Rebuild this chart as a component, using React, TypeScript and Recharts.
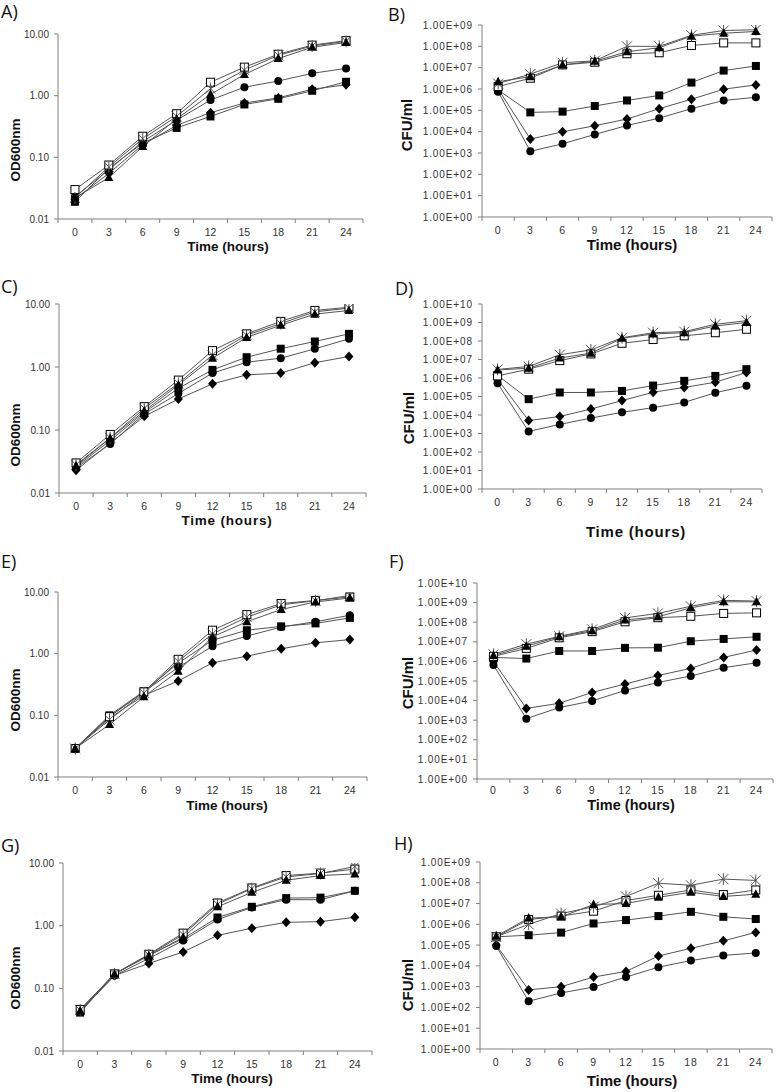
import React from 'react';
import { LineChart, Line, XAxis, YAxis } from 'recharts';

const TIMES = [0, 3, 6, 9, 12, 15, 18, 21, 24];
const OD_TICKS = [0.01, 0.1, 1, 10];
const CFU_TICKS_9 = [1, 1e1, 1e2, 1e3, 1e4, 1e5, 1e6, 1e7, 1e8, 1e9];
const CFU_TICKS_10 = [1, 1e1, 1e2, 1e3, 1e4, 1e5, 1e6, 1e7, 1e8, 1e9, 1e10];

// series order: open square, asterisk, triangle, circle, filled square, diamond
const A_openSq = [0.030, 0.075, 0.22, 0.51, 1.65, 2.9, 4.7, 6.6, 7.8];
const A_star = [0.022, 0.070, 0.20, 0.46, 1.30, 2.6, 4.5, 6.4, 7.6];
const A_tri = [0.022, 0.047, 0.15, 0.42, 1.05, 2.2, 4.0, 6.1, 7.3];
const A_circle = [0.023, 0.063, 0.18, 0.40, 0.85, 1.37, 1.73, 2.3, 2.77];
const A_fSq = [0.019, 0.066, 0.17, 0.30, 0.46, 0.72, 0.89, 1.2, 1.68];
const A_diamond = [0.021, 0.055, 0.16, 0.33, 0.53, 0.76, 0.92, 1.27, 1.5];

const B_openSq = [1.3e6, 3.2e6, 1.35e7, 1.8e7, 4.5e7, 5.0e7, 1.1e8, 1.45e8, 1.45e8];
const B_star = [1.8e6, 5.0e6, 1.7e7, 2.1e7, 1.0e8, 1.0e8, 3.3e8, 5.5e8, 6.0e8];
const B_tri = [2.2e6, 3.8e6, 1.35e7, 2.0e7, 5.6e7, 8.6e7, 3.0e8, 4.1e8, 5.0e8];
const B_circle = [7.5e5, 1.2e3, 2.7e3, 7.4e3, 1.95e4, 4.3e4, 1.2e5, 2.9e5, 4.1e5];
const B_fSq = [9e5, 8e4, 8.7e4, 1.6e5, 2.9e5, 5e5, 2e6, 7.3e6, 1.2e7];
const B_diamond = [1e6, 4.5e3, 9.8e3, 1.9e4, 3.9e4, 1.2e5, 3.3e5, 9.8e5, 1.55e6];

const C_openSq = [0.030, 0.085, 0.235, 0.62, 1.82, 3.36, 5.3, 7.9, 8.9];
const C_star = [0.028, 0.075, 0.22, 0.55, 1.55, 3.2, 4.9, 7.5, 8.6];
const C_tri = [0.027, 0.074, 0.20, 0.52, 1.38, 2.95, 4.6, 6.9, 7.9];
const C_circle = [0.025, 0.060, 0.18, 0.38, 0.80, 1.19, 1.38, 1.94, 2.8];
const C_fSq = [0.026, 0.068, 0.19, 0.46, 0.90, 1.43, 1.95, 2.54, 3.36];
const C_diamond = [0.023, 0.062, 0.165, 0.31, 0.54, 0.75, 0.80, 1.17, 1.47];

const D_openSq = [1.3e6, 3.0e6, 8.7e6, 2.0e7, 7.5e7, 1.2e8, 1.9e8, 2.8e8, 4.3e8];
const D_star = [2.9e6, 4.2e6, 1.8e7, 3.3e7, 1.5e8, 2.8e8, 3.2e8, 8e8, 1.25e9];
const D_tri = [2.7e6, 3.4e6, 1.2e7, 2.2e7, 1.4e8, 2.4e8, 2.8e8, 6.5e8, 1.0e9];
const D_circle = [5.2e5, 1.3e3, 3.1e3, 6.8e3, 1.4e4, 2.5e4, 4.8e4, 1.6e5, 3.8e5];
const D_fSq = [1.4e6, 7.2e4, 1.65e5, 1.65e5, 2e5, 3.9e5, 7e5, 1.3e6, 3e6];
const D_diamond = [8.5e5, 5e3, 8.3e3, 2.1e4, 6e4, 1.7e5, 3.1e5, 5.9e5, 2e6];

const E_openSq = [0.029, 0.095, 0.24, 0.81, 2.4, 4.3, 6.5, 7.3, 8.3];
const E_star = [0.029, 0.085, 0.23, 0.75, 2.1, 3.9, 6.2, 7.2, 8.8];
const E_tri = [0.029, 0.071, 0.20, 0.52, 1.87, 3.3, 5.2, 6.9, 8.0];
const E_circle = [0.029, 0.095, 0.24, 0.60, 1.32, 1.93, 2.7, 3.3, 4.2];
const E_fSq = [0.029, 0.10, 0.245, 0.70, 1.65, 2.4, 2.77, 3.1, 3.8];
const E_diamond = [0.029, 0.09, 0.21, 0.36, 0.71, 0.91, 1.2, 1.5, 1.69];

const F_openSq = [1.8e6, 4.6e6, 1.6e7, 3.3e7, 1.05e8, 1.7e8, 2e8, 2.8e8, 3e8];
const F_star = [2.3e6, 7.6e6, 1.9e7, 4.3e7, 1.66e8, 2.8e8, 6.5e8, 1.3e9, 1.2e9];
const F_tri = [2e6, 6e6, 1.8e7, 3.7e7, 1.3e8, 1.9e8, 5.4e8, 1.1e9, 1.1e9];
const F_circle = [6.5e5, 1.2e3, 4.4e3, 9.6e3, 3.3e4, 8.4e4, 1.8e5, 4.8e5, 8.5e5];
const F_fSq = [1.6e6, 1.4e6, 3.4e6, 3.4e6, 4.9e6, 5e6, 1.07e7, 1.4e7, 1.8e7];
const F_diamond = [1e6, 4e3, 7.3e3, 2.6e4, 7e4, 1.9e5, 4.4e5, 1.6e6, 3.8e6];

const G_openSq = [0.046, 0.17, 0.35, 0.76, 2.3, 4.0, 6.3, 6.9, 8.0];
const G_star = [0.045, 0.17, 0.34, 0.72, 2.2, 3.9, 6.0, 6.8, 8.8];
const G_tri = [0.044, 0.17, 0.33, 0.65, 2.0, 3.4, 5.3, 6.3, 6.7];
const G_circle = [0.043, 0.16, 0.30, 0.58, 1.25, 1.95, 2.6, 2.6, 3.6];
const G_fSq = [0.041, 0.17, 0.34, 0.62, 1.35, 2.0, 2.75, 2.8, 3.6];
const G_diamond = [0.043, 0.16, 0.25, 0.38, 0.70, 0.91, 1.13, 1.16, 1.36];

const H_openSq = [2.5e5, 1.7e6, 2.5e6, 4.3e6, 1.4e7, 2.5e7, 4.5e7, 2.7e7, 4.5e7];
const H_star = [2.5e5, 1.0e6, 3.3e6, 7e6, 2.2e7, 9.5e7, 7.6e7, 1.5e8, 1.3e8];
const H_tri = [2.7e5, 2.0e6, 2.3e6, 9e6, 1.0e7, 2.0e7, 3.5e7, 2.2e7, 2.8e7];
const H_circle = [9e4, 2e2, 5e2, 9.6e2, 2.9e3, 8.7e3, 1.8e4, 3.2e4, 4.2e4];
const H_fSq = [2.5e5, 3e5, 4e5, 1.1e6, 1.6e6, 2.5e6, 4e6, 2.3e6, 1.8e6];
const H_diamond = [1e5, 7e2, 1e3, 2.9e3, 5.4e3, 3e4, 7e4, 1.6e5, 4.1e5];

const AXIS = '#808080';
const LINE = '#555';
const TXT = '#333';
const FONT = '"Liberation Sans", Arial, sans-serif';

const makeRows = (openSq, star, tri, circle, fSq, diamond) =>
  TIMES.map((t, i) => ({
    t,
    openSq: openSq[i],
    star: star[i],
    tri: tri[i],
    circle: circle[i],
    fSq: fSq[i],
    diamond: diamond[i],
  }));

// lp = letter position, xt / yt = axis title centres, tl = tick label baseline below axis
const panels = [
  { letter: 'A', kind: 'od', rows: makeRows(A_openSq, A_star, A_tri, A_circle, A_fSq, A_diamond),
    x0: 58, top: 34, right: 363, bottom: 219, lp: [1, 18], xt: [228, 251], yt: [15, 150], tl: 17, tf: 13.5 },
  { letter: 'B', kind: 'cfu', max: 9, rows: makeRows(B_openSq, B_star, B_tri, B_circle, B_fSq, B_diamond),
    x0: 482, top: 25, right: 772, bottom: 217, lp: [388, 21], xt: [632, 250], yt: [406, 125], tl: 17, tf: 15 },
  { letter: 'C', kind: 'od', rows: makeRows(C_openSq, C_star, C_tri, C_circle, C_fSq, C_diamond),
    x0: 59, top: 304, right: 366, bottom: 493, lp: [1, 293], xt: [227, 525], yt: [15, 435], tl: 17, tf: 13.5 },
  { letter: 'D', kind: 'cfu', max: 10, rows: makeRows(D_openSq, D_star, D_tri, D_circle, D_fSq, D_diamond),
    x0: 482, top: 304, right: 762, bottom: 489, lp: [395, 295], xt: [636, 537], yt: [408, 418], tl: 17, tf: 15 },
  { letter: 'E', kind: 'od', rows: makeRows(E_openSq, E_star, E_tri, E_circle, E_fSq, E_diamond),
    x0: 58, top: 592, right: 367, bottom: 777, lp: [1, 568], xt: [227, 810], yt: [15, 700], tl: 17, tf: 13.5 },
  { letter: 'F', kind: 'cfu', max: 10, rows: makeRows(F_openSq, F_star, F_tri, F_circle, F_fSq, F_diamond),
    x0: 477, top: 583, right: 773, bottom: 779, lp: [389, 568], xt: [631, 810], yt: [407, 683], tl: 15, tf: 14.5 },
  { letter: 'G', kind: 'od', rows: makeRows(G_openSq, G_star, G_tri, G_circle, G_fSq, G_diamond),
    x0: 63, top: 863, right: 372, bottom: 1051, lp: [1, 852], xt: [232, 1083], yt: [15, 978], tl: 17, tf: 13.5 },
  { letter: 'H', kind: 'cfu', max: 9, rows: makeRows(H_openSq, H_star, H_tri, H_circle, H_fSq, H_diamond),
    x0: 480, top: 862, right: 772, bottom: 1049, lp: [394, 850], xt: [632, 1086], yt: [407, 985], tl: 17, tf: 15 },
];

// marker shapes
const OpenSquare = ({ cx, cy }) => (
  <rect x={cx - 4} y={cy - 4} width={8} height={8} fill="#fff" stroke="#000" strokeWidth={1} />
);
const FilledSquare = ({ cx, cy }) => (
  <rect x={cx - 4} y={cy - 4} width={8} height={8} fill="#000" />
);
const Circle = ({ cx, cy }) => <circle cx={cx} cy={cy} r={4} fill="#000" />;
const Diamond = ({ cx, cy }) => (
  <path d={`M${cx},${cy - 5}L${cx + 4.5},${cy}L${cx},${cy + 5}L${cx - 4.5},${cy}Z`} fill="#000" />
);
const Triangle = ({ cx, cy }) => (
  <path d={`M${cx},${cy - 5}L${cx + 4.5},${cy + 3.5}L${cx - 4.5},${cy + 3.5}Z`} fill="#000" />
);
const Star = ({ cx, cy }) => (
  <path
    d={`M${cx - 5},${cy - 5}L${cx + 5},${cy + 5}M${cx + 5},${cy - 5}L${cx - 5},${cy + 5}M${cx},${cy - 6}L${cx},${cy + 6}`}
    stroke="#555"
    strokeWidth={1}
    fill="none"
  />
);

const dotOf = (Shape) => (props) => (
  <Shape key={`m${props.index}`} cx={props.cx} cy={props.cy} />
);

const SERIES = [
  { key: 'diamond', dot: dotOf(Diamond) },
  { key: 'circle', dot: dotOf(Circle) },
  { key: 'fSq', dot: dotOf(FilledSquare) },
  { key: 'openSq', dot: dotOf(OpenSquare) },
  { key: 'star', dot: dotOf(Star) },
  { key: 'tri', dot: dotOf(Triangle) },
];

const fmtOd = (v) => v.toFixed(2);
const fmtCfu = (v) => {
  const e = Math.round(Math.log10(v));
  return `1.00E+${e < 10 ? '0' : ''}${e}`;
};

const YW = 60;
const MT = 10;
const MR = 10;
const XH = 30;

const Panel = ({ p }) => {
  const plotW = p.right - p.x0;
  const plotH = p.bottom - p.top;
  const half = plotW / 18;
  const cfu = p.kind === 'cfu';
  const ls = cfu ? 0.9 : 0;
  const ticks = cfu ? (p.max === 10 ? CFU_TICKS_10 : CFU_TICKS_9) : OD_TICKS;
  const domain = [ticks[0], ticks[ticks.length - 1]];

  const xTick = ({ x, y, payload }) => (
    <g>
      <line x1={x - half} y1={y} x2={x - half} y2={y + 4} stroke={AXIS} />
      {payload.value === 24 && <line x1={x + half} y1={y} x2={x + half} y2={y + 4} stroke={AXIS} />}
      <text x={x} y={y + p.tl} textAnchor="middle" fontSize={10.5} fill={TXT} fontFamily={FONT} letterSpacing={ls}>
        {payload.value}
      </text>
    </g>
  );

  return (
    <div style={{ position: 'absolute', left: p.x0 - YW, top: p.top - MT }}>
      <LineChart
        width={plotW + YW + MR}
        height={plotH + MT + XH}
        data={p.rows}
        margin={{ top: MT, right: MR, left: 0, bottom: 0 }}
      >
        <XAxis
          dataKey="t"
          type="number"
          domain={[-1.5, 25.5]}
          ticks={TIMES}
          interval={0}
          allowDataOverflow
          height={XH}
          stroke={AXIS}
          tickLine={false}
          tickSize={0}
          tickMargin={0}
          tick={xTick}
        />
        <YAxis
          type="number"
          scale="log"
          domain={domain}
          ticks={ticks}
          interval={0}
          allowDataOverflow
          width={YW}
          stroke={AXIS}
          tickSize={4}
          tickMargin={5}
          tickFormatter={cfu ? fmtCfu : fmtOd}
          tick={{ fontSize: 10, fill: TXT, fontFamily: FONT, letterSpacing: ls }}
        />
        {SERIES.map((s) => (
          <Line
            key={s.key}
            dataKey={s.key}
            stroke={LINE}
            strokeWidth={1}
            dot={s.dot}
            activeDot={false}
            isAnimationActive={false}
          />
        ))}
      </LineChart>
    </div>
  );
};

export default function App() {
  return (
    <div style={{ position: 'absolute', left: 0, top: 0, width: 777, height: 1092, background: '#fff', overflow: 'hidden' }}>
      {panels.map((p) => (
        <Panel key={p.letter} p={p} />
      ))}
      <svg width={777} height={1092} style={{ position: 'absolute', left: 0, top: 0, pointerEvents: 'none' }}>
        {panels.map((p) => {
          const cfu = p.kind === 'cfu';
          return (
            <g key={p.letter}>
              <text x={p.lp[0]} y={p.lp[1]} fontSize={18} fontFamily='"Open Sans", "Noto Sans", sans-serif' fill="#111">
                {p.letter})
              </text>
              <text
                x={p.xt[0]}
                y={p.xt[1]}
                textAnchor="middle"
                fontSize={p.tf}
                fontWeight="bold"
                fontFamily={FONT}
                fill="#111"
                letterSpacing={p.letter === 'C' || p.letter === 'D' ? 0.8 : 0}
              >
                Time (hours)
              </text>
              <text
                x={p.yt[0]}
                y={p.yt[1]}
                textAnchor="middle"
                dominantBaseline="central"
                transform={`rotate(-90 ${p.yt[0]} ${p.yt[1]})`}
                fontSize={cfu ? 15 : 13.5}
                fontWeight="bold"
                fontFamily={FONT}
                fill="#111"
              >
                {cfu ? 'CFU/ml' : 'OD600nm'}
              </text>
            </g>
          );
        })}
      </svg>
    </div>
  );
}
